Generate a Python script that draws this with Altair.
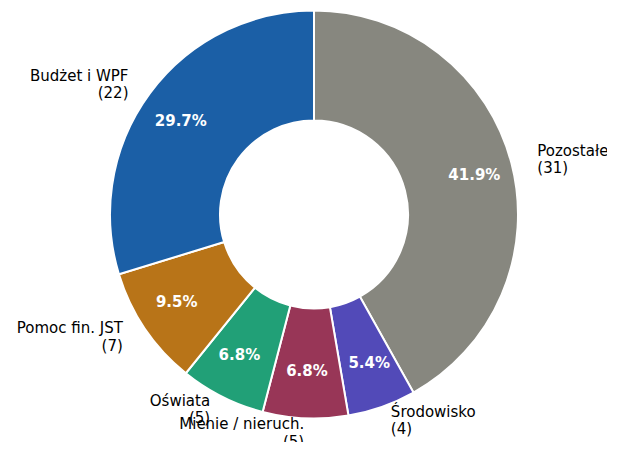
import altair as alt
import pandas as pd

categories = ["Pozostałe", "Środowisko", "Mienie / nieruch.", "Oświata", "Pomoc fin. JST", "Budżet i WPF"]
counts = [31, 4, 5, 5, 7, 22]
colors = ["#87877f", "#524ab8", "#983657", "#21a077", "#b87418", "#1b5fa6"]

total = sum(counts)
df = pd.DataFrame({"category": categories, "count": counts, "idx": list(range(len(categories)))})

# layout constants (pixels): horizontal / vertical reach of the ring used for label placement
RX, RY = 209.75, 198.7

base = alt.Chart(df).transform_window(
    cum="sum(count)", sort=[alt.SortField("idx")], frame=[None, 0]
).transform_calculate(
    t="(datum.cum - datum.count / 2) / %d * 2 * PI" % total,
    pct="format(datum.count / %d * 100, '.1f') + '%%'" % total,
    label="datum.category + '\\n(' + datum.count + ')'",
).transform_calculate(
    px="%f * sin(datum.t)" % RX,
    py="%f * cos(datum.t)" % RY,
).transform_calculate(
    ta="atan2(datum.px, datum.py)",
    rr="sqrt(datum.px * datum.px + datum.py * datum.py)",
    side="datum.px >= 0 ? 'R' : 'L'",
).transform_calculate(
    lr="1.1 * datum.rr",
    pr="0.79 * datum.rr",
)

theta_lab = alt.Theta("ta:Q", scale=None, stack=None)

arcs = base.mark_arc(outerRadius=204, innerRadius=94, stroke="white", strokeWidth=2).encode(
    theta=alt.Theta("count:Q", stack=True, scale=alt.Scale(domain=[0, total])),
    color=alt.Color("category:N", scale=alt.Scale(domain=categories, range=colors), legend=None),
    order=alt.Order("idx:Q"),
)

pct = base.mark_text(
    font="DejaVu Sans", fontSize=15, fontWeight="bold", color="white", baseline="middle"
).encode(theta=theta_lab, radius=alt.Radius("pr:Q", scale=None), text="pct:N")

lbl_r = base.transform_filter("datum.side == 'R'").mark_text(
    font="DejaVu Sans", fontSize=15, color="black", align="left", baseline="middle",
    lineBreak="\n", lineHeight=17.5, dy=-8.75,
).encode(theta=theta_lab, radius=alt.Radius("lr:Q", scale=None), text="label:N")

lbl_l = base.transform_filter("datum.side == 'L'").mark_text(
    font="DejaVu Sans", fontSize=15, color="black", align="right", baseline="middle",
    lineBreak="\n", lineHeight=17.5, dy=-8.75,
).encode(theta=theta_lab, radius=alt.Radius("lr:Q", scale=None), text="label:N")

chart = alt.layer(arcs, pct, lbl_r, lbl_l).properties(
    width=586, height=413,
    autosize=alt.AutoSizeParams(type="none"),
    padding={"left": 13, "top": 0, "right": 0, "bottom": 21},
).configure_view(stroke=None)

chart.save("out.html", embed_options={"renderer": "svg", "actions": False})
